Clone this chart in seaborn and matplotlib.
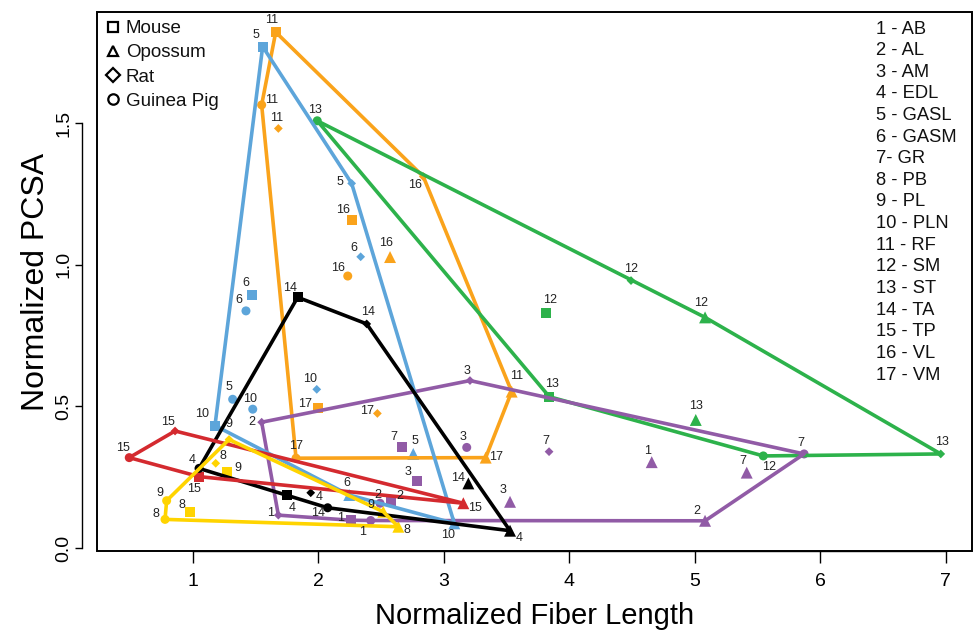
import numpy as np
import pandas as pd
import matplotlib
matplotlib.use("Agg")
import matplotlib.pyplot as plt
from matplotlib.lines import Line2D
from matplotlib.patches import Rectangle
import seaborn as sns

# ── data (muscle 1..17 per species) ───────────────────────────────────────────

MUSCLES = ["AB", "AL", "AM", "EDL", "GASL", "GASM", "GR", "PB", "PL",
           "PLN", "RF", "SM", "ST", "TA", "TP", "VL", "VM"]
SPECIES = ["Mouse", "Opossum", "Rat", "Guinea Pig"]

mouse_fl   = [2.261, 2.582, 2.791, 1.751, 1.559, 1.472, 2.667, 0.980, 1.273,
              1.179, 1.663, 3.817, 3.843, 1.838, 1.052, 2.271, 1.998]
mouse_pcsa = [0.098, 0.167, 0.238, 0.187, 1.770, 0.893, 0.358, 0.128, 0.267,
              0.432, 1.821, 0.831, 0.534, 0.885, 0.252, 1.158, 0.493]

opossum_fl   = [4.659, 5.084, 3.530, 3.530, 2.759, 2.249, 5.416, 2.640, 2.520,
                3.086, 3.543, 5.084, 5.010, 3.198, 3.158, 2.574, 3.336]
opossum_pcsa = [0.303, 0.096, 0.163, 0.061, 0.332, 0.187, 0.266, 0.075, 0.128,
                0.087, 0.552, 0.814, 0.452, 0.228, 0.158, 1.027, 0.319]

rat_fl   = [1.684, 1.551, 3.211, 1.942, 2.268, 2.340, 3.841, 1.185, 1.291,
            1.990, 1.684, 4.494, 6.962, 2.388, 0.861, 2.839, 2.473]
rat_pcsa = [0.116, 0.444, 0.591, 0.195, 1.287, 1.028, 0.340, 0.299, 0.383,
            0.560, 1.481, 0.944, 0.332, 0.791, 0.413, 1.311, 0.475]

gp_fl   = [2.420, 2.494, 3.185, 1.052, 1.320, 1.426, 5.873, 0.781, 0.794,
           1.480, 1.551, 5.548, 1.994, 2.077, 0.496, 2.237, 1.825]
gp_pcsa = [0.097, 0.158, 0.355, 0.281, 0.525, 0.837, 0.332, 0.101, 0.167,
           0.490, 1.564, 0.325, 1.508, 0.142, 0.319, 0.960, 0.317]

# functional group of each muscle number
GROUP = {1: "adductor", 2: "adductor", 3: "adductor", 7: "adductor",
         4: "dorsiflexor", 14: "dorsiflexor",
         5: "plantarflexor", 6: "plantarflexor", 10: "plantarflexor",
         8: "peroneal", 9: "peroneal",
         11: "quadriceps", 16: "quadriceps", 17: "quadriceps",
         12: "hamstring", 13: "hamstring",
         15: "tp"}

# ── style ─────────────────────────────────────────────────────────────────────

GROUP_COLORS = {
    "quadriceps":    "#FAA31B",
    "hamstring":     "#2DB24B",
    "adductor":      "#915BA6",
    "plantarflexor": "#5DA5DA",
    "dorsiflexor":   "#000000",
    "tp":            "#D42A2F",
    "peroneal":      "#FFD400",
}
MARKERS = {"Mouse": "s", "Opossum": "^", "Rat": "D", "Guinea Pig": "o"}
SIZES   = {"Mouse": 52, "Opossum": 74, "Rat": 20, "Guinea Pig": 42}

# label offsets in pixels (dx, dy), per species, muscle 1..17
LABEL_OFF = {
    "Mouse": [(-10, 2), (9, 5), (-9, 9), (5, -13), (-7, 12), (-6, 12), (-8, 10),
              (-8, 7), (11, 4), (-13, 12), (-4, 12), (4, 13), (3, 13), (-8, 9),
              (-5, -12), (-9, 10), (-13, 4)],
    "Opossum": [(-4, 11), (-8, 10), (-7, 12), (9, -7), (2, 13), (-2, 12), (-4, 12),
                (9, -3), (-12, 7), (-6, -12), (5, 16), (-4, 14), (0, 14), (-10, 5),
                (12, -5), (-4, 14), (10, 1)],
    "Rat": [(-8, 2), (-10, 0), (-3, 10), (8, -4), (-12, 1), (-7, 9), (-3, 11),
            (7, 7), (0, 15), (-7, 10), (-2, 10), (0, 12), (1, 12), (1, 12),
            (-7, 9), (-8, -8), (-10, 2)],
    "Guinea Pig": [(-8, -11), (-2, 8), (-4, 10), (-7, 8), (-4, 12), (-7, 11), (-3, 11),
                   (-9, 5), (-7, 8), (-3, 10), (10, 5), (6, -11), (-2, 11), (-10, -5),
                   (-6, 10), (-10, 8), (0, 12)],
}

sns.set_theme(style="white")
plt.rcParams["font.family"] = ["Liberation Sans", "DejaVu Sans"]
plt.rcParams["text.color"] = "black"
plt.rcParams["axes.labelcolor"] = "black"

frames = []
for sp, fl, pc in [("Mouse", mouse_fl, mouse_pcsa), ("Opossum", opossum_fl, opossum_pcsa),
                   ("Rat", rat_fl, rat_pcsa), ("Guinea Pig", gp_fl, gp_pcsa)]:
    frames.append(pd.DataFrame({"species": sp, "num": range(1, 18),
                                "fiber": fl, "pcsa": pc}))
df = pd.concat(frames, ignore_index=True)
df["group"] = df["num"].map(GROUP)


def convex_hull(points):
    pts = sorted(set(points))
    if len(pts) < 3:
        return pts

    def cross(o, a, b):
        return (a[0] - o[0]) * (b[1] - o[1]) - (a[1] - o[1]) * (b[0] - o[0])

    lower, upper = [], []
    for p in pts:
        while len(lower) >= 2 and cross(lower[-2], lower[-1], p) <= 0:
            lower.pop()
        lower.append(p)
    for p in reversed(pts):
        while len(upper) >= 2 and cross(upper[-2], upper[-1], p) <= 0:
            upper.pop()
        upper.append(p)
    return lower[:-1] + upper[:-1]


fig = plt.figure(figsize=(9.75, 6.34), dpi=100)
ax = fig.add_axes([97 / 975, 1 - 551 / 634, 875 / 975, 539 / 634])

sns.scatterplot(data=df, x="fiber", y="pcsa", hue="group", palette=GROUP_COLORS,
                style="species", markers=MARKERS, size="species", sizes=SIZES,
                linewidth=0, legend=False, ax=ax, zorder=2)

# hull outlines per functional group
for z, g in enumerate(["quadriceps", "hamstring", "adductor", "plantarflexor",
                       "dorsiflexor", "tp", "peroneal"]):
    sub = df[df["group"] == g]
    hull = convex_hull(list(zip(sub["fiber"], sub["pcsa"])))
    hull.append(hull[0])
    hx, hy = zip(*hull)
    ax.plot(hx, hy, color=GROUP_COLORS[g], lw=2.6, zorder=3 + z * 0.1,
            solid_joinstyle="round", solid_capstyle="round")

# muscle number labels
for _, row in df.iterrows():
    dx, dy = LABEL_OFF[row["species"]][row["num"] - 1]
    ax.annotate(str(row["num"]), (row["fiber"], row["pcsa"]), xytext=(dx, dy),
                textcoords="offset pixels", ha="center", va="center",
                fontsize=9, color="#222222", zorder=5)

ax.set_xlim(0.239, 7.211)
ax.set_ylim(-0.0106, 1.892)

# R-style box + detached axes
ax.add_patch(Rectangle((0, 0), 1, 1, transform=ax.transAxes, fill=False,
                       lw=1.4, ec="black", clip_on=False, zorder=10))
for s in ["top", "right"]:
    ax.spines[s].set_visible(False)
ax.spines["left"].set_position(("outward", 11))
ax.spines["left"].set_bounds(0, 1.5)
ax.spines["bottom"].set_bounds(1, 7)
for s in ["left", "bottom"]:
    ax.spines[s].set_color("black")
    ax.spines[s].set_linewidth(1.0)

ax.set_xticks(range(1, 8))
ax.set_yticks([0, 0.5, 1.0, 1.5])
ax.set_yticklabels(["0.0", "0.5", "1.0", "1.5"], rotation=90, va="center")
ax.tick_params(axis="x", length=8.5, width=1, pad=7, labelsize=14,
               direction="out", bottom=True, colors="black")
ax.tick_params(axis="y", length=5, width=1, pad=2, labelsize=14,
               direction="out", left=True, colors="black")
ax.set_xlabel("Normalized Fiber Length", fontsize=21, labelpad=9, color="black")
ax.set_ylabel("Normalized PCSA", fontsize=23, labelpad=3, color="black")

# species legend (open markers)
handles = [Line2D([], [], ls="none", marker=MARKERS[sp], mfc="white", mec="black",
                  mew=1.6, ms={"Mouse": 7, "Opossum": 7.5, "Rat": 7, "Guinea Pig": 7.5}[sp])
           for sp in SPECIES]
leg = ax.legend(handles, SPECIES, loc="upper left", bbox_to_anchor=(106 / 975, 1 - 20 / 634),
                bbox_transform=fig.transFigure, frameon=False, fontsize=13.5,
                handlelength=0.75, handletextpad=0.3, borderpad=0, borderaxespad=0,
                labelspacing=0.38)
for t in leg.get_texts():
    t.set_color("#111111")

# muscle key
for i, m in enumerate(MUSCLES):
    sep = "- " if i + 1 == 7 else " - "
    fig.text(876 / 975, 1 - (29 + i * 21.625) / 634, f"{i + 1}{sep}{m}",
             ha="left", va="center", fontsize=13.2, color="#111111")

fig.savefig("out.png", dpi=100)
